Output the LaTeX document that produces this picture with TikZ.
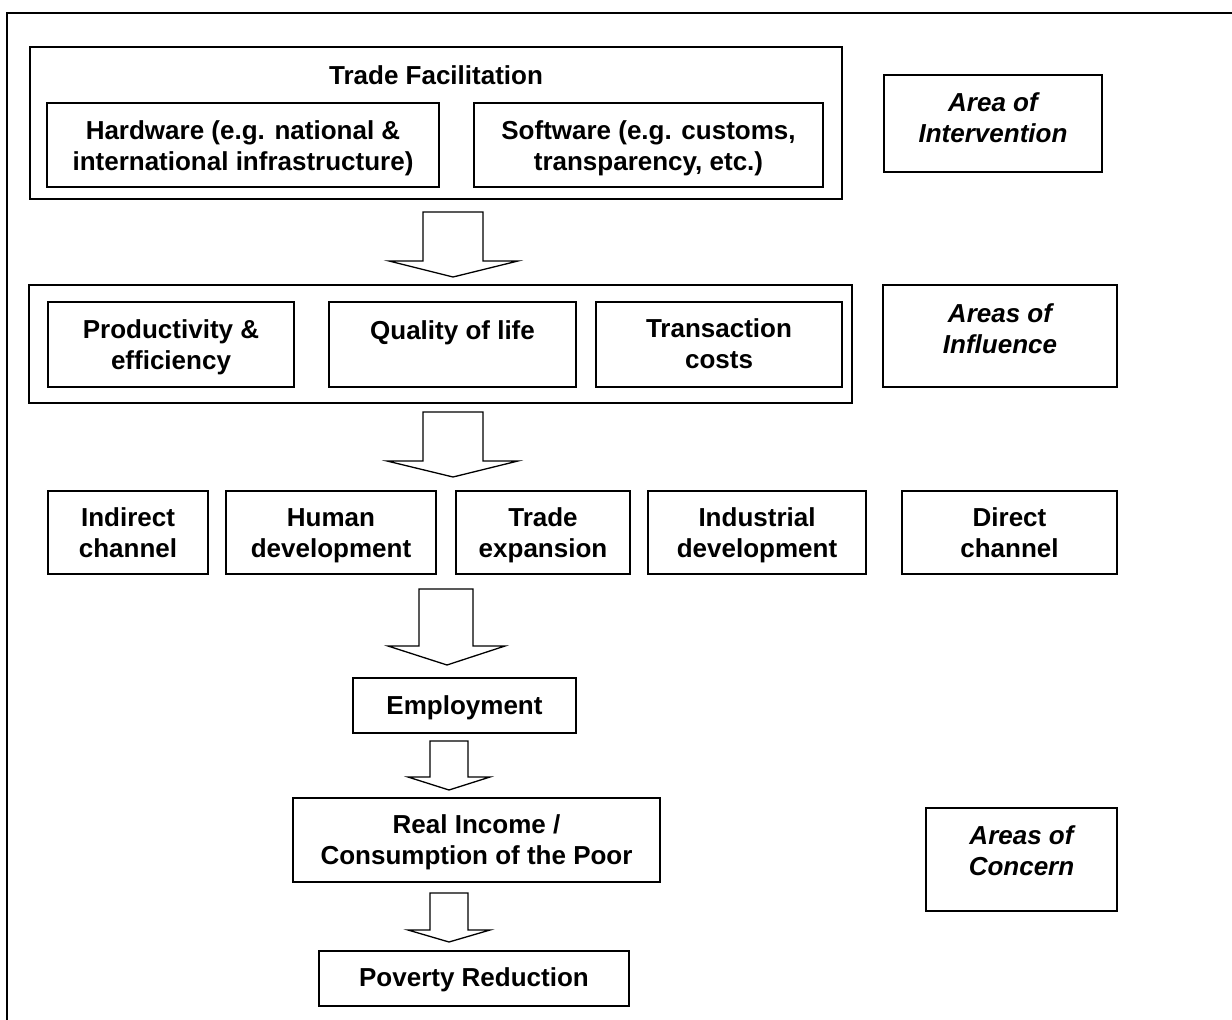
\documentclass[tikz,border=0pt]{standalone}
\usepackage{fontspec}
\setmainfont{Liberation Sans}
\tikzset{
  box/.style={draw, line width=1.3pt, inner sep=0pt},
  lbl/.style={font=\bfseries\fontsize{26}{31}\selectfont, align=center, inner sep=0pt},
  ital/.style={font=\bfseries\itshape\fontsize{26}{31}\selectfont, align=center, inner sep=0pt},
  blockarr/.style={draw, line width=1.3pt, fill=white, line join=miter},
  frameline/.style={draw, line width=2pt}
}
\newcommand{\blockarrow}[8]{%
  \draw[blockarr] (#1,#3) -- (#1,#4) -- (#5,#4) -- (#7,#8) -- (#6,#4) -- (#2,#4) -- (#2,#3) -- cycle;}
\begin{document}
\begin{tikzpicture}[x=1pt,y=-1pt]
\useasboundingbox (0,0) rectangle (1232,1020);
% frame (top and left edges only)
\coordinate (fbl) at (7,1020);
\coordinate (ftl) at (7,13);
\coordinate (ftr) at (1232,13);
\draw[frameline] (fbl) -- (ftl) -- (ftr);

% Area of intervention
\node[box, minimum width=812, minimum height=152] (tf) at (436,123) {};
\node[lbl] (tft) at (436,75) {Trade Facilitation};
\node[box, minimum width=392, minimum height=84] (hw) at (243,145) {};
\node[lbl] (hwt) at (243,148.5) {Hardware (e.g. national \&\\international infrastructure)};
\node[box, minimum width=349, minimum height=84] (sw) at (648.5,145) {};
\node[lbl] (swt) at (648.5,148.5) {Software (e.g. customs,\\transparency, etc.)};
\node[box, minimum width=218, minimum height=97] (aoi) at (993,123.5) {};
\node[ital] (aoit) at (993,118) {Area of\\Intervention};

% Areas of influence
\node[box, minimum width=823, minimum height=118] (inf) at (440.5,344) {};
\node[box, minimum width=246, minimum height=85] (prod) at (171,344.5) {};
\node[lbl] (prodt) at (171,347) {Productivity \&\\efficiency};
\node[box, minimum width=247, minimum height=85] (qual) at (452.5,344.5) {};
\node[lbl] (qualt) at (452.5,333) {Quality of life};
\node[box, minimum width=246, minimum height=85] (trans) at (719,344.5) {};
\node[lbl] (transt) at (719,344) {Transaction\\costs};
\node[box, minimum width=234, minimum height=102] (aoinf) at (1000,336) {};
\node[ital] (aoinft) at (1000,328.5) {Areas of\\Influence};

% Channels
\node[box, minimum width=160, minimum height=83] (ind) at (128,532.5) {};
\node[lbl] (indt) at (128,532.5) {Indirect\\channel};
\node[box, minimum width=210, minimum height=83] (hum) at (331,532.5) {};
\node[lbl] (humt) at (331,535.5) {Human\\development};
\node[box, minimum width=174, minimum height=83] (tex) at (543,532.5) {};
\node[lbl] (text) at (543,535.5) {Trade\\expansion};
\node[box, minimum width=218, minimum height=83] (indus) at (757,532.5) {};
\node[lbl] (indust) at (757,535.5) {Industrial\\development};
\node[box, minimum width=215, minimum height=83] (dir) at (1009.5,532.5) {};
\node[lbl] (dirt) at (1009.5,532.5) {Direct\\channel};

% Areas of concern
\node[box, minimum width=223, minimum height=55] (emp) at (464.5,705.5) {};
\node[lbl] (empt) at (464.5,707.5) {Employment};
\node[box, minimum width=367, minimum height=84] (inc) at (476.5,840) {};
\node[lbl] (inct) at (476.5,842.5) {Real Income /\\Consumption of the Poor};
\node[box, minimum width=310, minimum height=55] (pov) at (474,978.5) {};
\node[lbl] (povt) at (474,980) {Poverty Reduction};
\node[box, minimum width=191, minimum height=103] (aoc) at (1021.5,859.5) {};
\node[ital] (aoct) at (1021.5,850.5) {Areas of\\Concern};

% block arrows
\blockarrow{423}{483}{212}{261}{389}{518}{453}{277}
\blockarrow{423}{483}{412}{461}{387}{518}{453}{477}
\blockarrow{419}{473}{589}{646}{388}{505}{447}{665}
\blockarrow{430}{468}{741}{777}{408}{490}{449}{790}
\blockarrow{430}{468}{893}{930}{408}{490}{449}{942}
\end{tikzpicture}
\end{document}
